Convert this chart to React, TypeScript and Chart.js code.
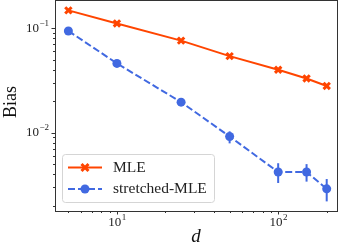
import React, { useEffect, useRef } from "react";
import { Chart, registerables } from "chart.js";

Chart.register(...registerables);

const dValues = [5, 10, 25, 50, 100, 150, 200];
const mleBias = [0.148, 0.111, 0.076, 0.054, 0.040, 0.033, 0.028];
const smleBias = [0.094, 0.046, 0.0196, 0.0092, 0.0042, 0.0042, 0.0029];
const smleLow = [0.092, 0.045, 0.019, 0.0079, 0.0033, 0.0034, 0.0022];
const smleHigh = [0.096, 0.047, 0.0202, 0.0103, 0.0051, 0.005, 0.0036];

const xMajorTicks = [10, 100];
const xMajorExp = ["1", "2"];
const xMinorTicks = [5, 6, 7, 8, 9, 20, 30, 40, 50, 60, 70, 80, 90, 200];
const yMajorTicks = [0.01, 0.1];
const yMajorExp = ["\u22122", "\u22121"];
const yMinorTicks = [
  0.002, 0.003, 0.004, 0.005, 0.006, 0.007, 0.008, 0.009,
  0.02, 0.03, 0.04, 0.05, 0.06, 0.07, 0.08, 0.09,
];
const seriesNames = ["MLE", "stretched-MLE"];

const MLE_COLOR = "#FF4500";
const SMLE_COLOR = "#4169E1";
const FONT = "'Liberation Serif', 'DejaVu Serif', serif";

function drawX(ctx: CanvasRenderingContext2D, x: number, y: number, r: number, color: string) {
  ctx.save();
  ctx.strokeStyle = color;
  ctx.lineWidth = 3;
  ctx.lineCap = "butt";
  ctx.beginPath();
  ctx.moveTo(x - r, y - r);
  ctx.lineTo(x + r, y + r);
  ctx.moveTo(x - r, y + r);
  ctx.lineTo(x + r, y - r);
  ctx.stroke();
  ctx.restore();
}

function drawDot(ctx: CanvasRenderingContext2D, x: number, y: number, r: number, color: string) {
  ctx.save();
  ctx.fillStyle = color;
  ctx.beginPath();
  ctx.arc(x, y, r, 0, Math.PI * 2);
  ctx.fill();
  ctx.restore();
}

const decorPlugin = {
  id: "decor",
  beforeDatasetsDraw(chart: any) {
    const ctx = chart.ctx as CanvasRenderingContext2D;
    const xs = chart.scales.x;
    const ys = chart.scales.y;
    ctx.save();
    ctx.strokeStyle = SMLE_COLOR;
    ctx.lineWidth = 2;
    for (let i = 0; i < dValues.length; i++) {
      const px = xs.getPixelForValue(dValues[i]);
      ctx.beginPath();
      ctx.moveTo(px, ys.getPixelForValue(smleLow[i]));
      ctx.lineTo(px, ys.getPixelForValue(smleHigh[i]));
      ctx.stroke();
    }
    ctx.restore();
  },
  afterDraw(chart: any) {
    const ctx = chart.ctx as CanvasRenderingContext2D;
    const xs = chart.scales.x;
    const ys = chart.scales.y;
    const a = chart.chartArea;
    ctx.save();
    // frame
    ctx.strokeStyle = "#333";
    ctx.lineWidth = 1;
    ctx.strokeRect(Math.round(a.left) + 0.5, Math.round(a.top) + 0.5, Math.round(a.right - a.left) - 1, Math.round(a.bottom - a.top));
    // ticks
    ctx.beginPath();
    for (const v of xMajorTicks) {
      const p = Math.round(xs.getPixelForValue(v)) + 0.5;
      ctx.moveTo(p, a.bottom);
      ctx.lineTo(p, a.bottom + 3.5);
    }
    for (const v of xMinorTicks) {
      const p = Math.round(xs.getPixelForValue(v)) + 0.5;
      ctx.moveTo(p, a.bottom);
      ctx.lineTo(p, a.bottom + 2);
    }
    for (const v of yMajorTicks) {
      const p = Math.round(ys.getPixelForValue(v)) + 0.5;
      ctx.moveTo(a.left, p);
      ctx.lineTo(a.left - 3.5, p);
    }
    for (const v of yMinorTicks) {
      const p = Math.round(ys.getPixelForValue(v)) + 0.5;
      ctx.moveTo(a.left, p);
      ctx.lineTo(a.left - 2, p);
    }
    ctx.stroke();

    // tick labels
    ctx.fillStyle = "#222";
    ctx.textBaseline = "middle";
    const baseFont = "13px " + FONT;
    const supFont = "9px " + FONT;
    xMajorTicks.forEach((v, i) => {
      const p = xs.getPixelForValue(v);
      ctx.font = baseFont;
      const w1 = ctx.measureText("10").width;
      ctx.font = supFont;
      const w2 = ctx.measureText(xMajorExp[i]).width;
      const start = p - (w1 + w2) / 2;
      const cy = a.bottom + 12;
      ctx.font = baseFont;
      ctx.textAlign = "left";
      ctx.fillText("10", start, cy);
      ctx.font = supFont;
      ctx.fillText(xMajorExp[i], start + w1 + 0.5, cy - 5);
    });
    yMajorTicks.forEach((v, i) => {
      const p = ys.getPixelForValue(v);
      const end = a.left - 6;
      ctx.font = supFont;
      ctx.textAlign = "right";
      const w2 = ctx.measureText(yMajorExp[i]).width;
      ctx.fillText(yMajorExp[i], end, p - 5);
      ctx.font = baseFont;
      ctx.fillText("10", end - w2 - 0.5, p);
    });

    // axis titles
    ctx.font = "italic 19px " + FONT;
    ctx.textAlign = "center";
    ctx.fillStyle = "#111";
    ctx.fillText("d", 196, 237);
    ctx.save();
    ctx.translate(11, 102);
    ctx.rotate(-Math.PI / 2);
    ctx.font = "18px " + FONT;
    ctx.fillText("Bias", 0, 0);
    ctx.restore();

    // legend
    const lx = 62.5, ly = 154.5, lw = 152, lh = 48, r = 3;
    ctx.beginPath();
    ctx.moveTo(lx + r, ly);
    ctx.lineTo(lx + lw - r, ly);
    ctx.quadraticCurveTo(lx + lw, ly, lx + lw, ly + r);
    ctx.lineTo(lx + lw, ly + lh - r);
    ctx.quadraticCurveTo(lx + lw, ly + lh, lx + lw - r, ly + lh);
    ctx.lineTo(lx + r, ly + lh);
    ctx.quadraticCurveTo(lx, ly + lh, lx, ly + lh - r);
    ctx.lineTo(lx, ly + r);
    ctx.quadraticCurveTo(lx, ly, lx + r, ly);
    ctx.closePath();
    ctx.fillStyle = "rgba(255,255,255,0.8)";
    ctx.fill();
    ctx.strokeStyle = "#d5d5d5";
    ctx.lineWidth = 1;
    ctx.stroke();

    const rows = [167.5, 189];
    ctx.strokeStyle = MLE_COLOR;
    ctx.lineWidth = 2;
    ctx.setLineDash([]);
    ctx.beginPath();
    ctx.moveTo(68, rows[0]);
    ctx.lineTo(102, rows[0]);
    ctx.stroke();
    drawX(ctx, 85, rows[0], 3.5, MLE_COLOR);
    ctx.strokeStyle = SMLE_COLOR;
    ctx.setLineDash([7, 3]);
    ctx.beginPath();
    ctx.moveTo(68, rows[1]);
    ctx.lineTo(102, rows[1]);
    ctx.stroke();
    ctx.setLineDash([]);
    drawDot(ctx, 85, rows[1], 4.5, SMLE_COLOR);

    ctx.fillStyle = "#222";
    ctx.font = "15.5px " + FONT;
    ctx.textAlign = "left";
    ctx.fillText(seriesNames[0], 113, rows[0]);
    ctx.fillText(seriesNames[1], 113, rows[1]);
    ctx.restore();
  },
};

export default function App() {
  const ref = useRef<HTMLCanvasElement | null>(null);
  useEffect(() => {
    if (!ref.current) return;
    const chart = new Chart(ref.current, {
      type: "line",
      data: {
        datasets: [
          {
            label: seriesNames[0],
            data: dValues.map((d, i) => ({ x: d, y: mleBias[i] })),
            borderColor: MLE_COLOR,
            backgroundColor: MLE_COLOR,
            borderWidth: 2,
            pointStyle: "crossRot",
            pointRadius: 4.5,
            pointBorderWidth: 3,
            pointBorderColor: MLE_COLOR,
            tension: 0,
          },
          {
            label: seriesNames[1],
            data: dValues.map((d, i) => ({ x: d, y: smleBias[i] })),
            borderColor: SMLE_COLOR,
            backgroundColor: SMLE_COLOR,
            borderWidth: 2,
            borderDash: [7, 3],
            pointStyle: "circle",
            pointRadius: 4.5,
            pointBorderWidth: 0,
            tension: 0,
          },
        ],
      },
      options: {
        responsive: false,
        animation: false,
        devicePixelRatio: 1,
        layout: { autoPadding: false, padding: { left: 55, top: 0, right: 1, bottom: 38 } },
        plugins: { legend: { display: false }, tooltip: { enabled: false } },
        scales: {
          x: {
            type: "logarithmic",
            display: false,
            min: 4.13,
            max: 235,
          },
          y: {
            type: "logarithmic",
            display: false,
            min: 0.00178,
            max: 0.186,
          },
        },
      },
      plugins: [decorPlugin],
    });
    return () => chart.destroy();
  }, []);
  return (
    <div style={{ position: "fixed", left: 0, top: 0, width: 339, height: 249, background: "#fff" }}>
      <canvas ref={ref} width={339} height={249} style={{ display: "block" }} />
    </div>
  );
}
